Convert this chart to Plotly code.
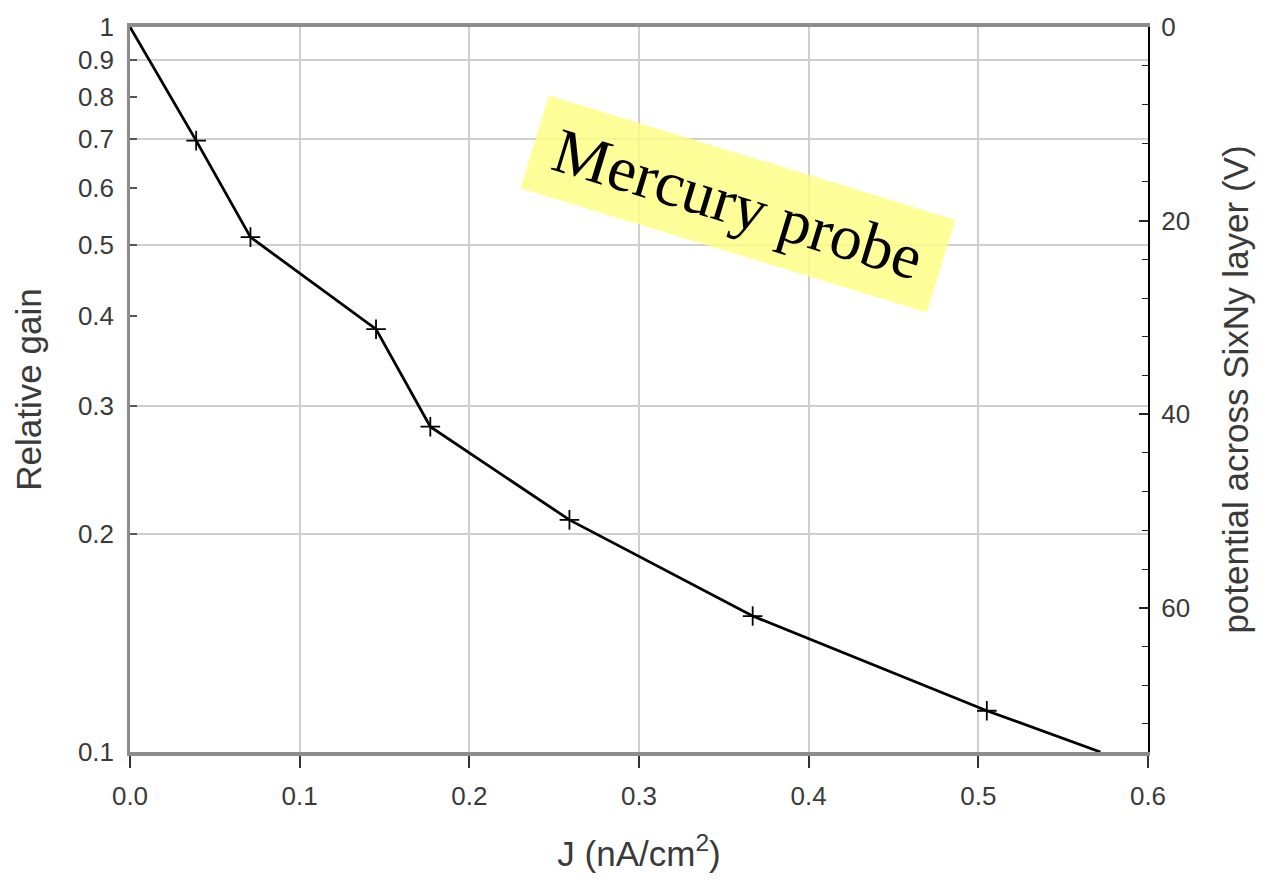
import plotly.graph_objects as go

# Data
J = [0.0, 0.039, 0.071, 0.145, 0.177, 0.259, 0.367, 0.505, 0.572]
gain = [1.0, 0.697, 0.513, 0.383, 0.281, 0.209, 0.154, 0.114, 0.1]
marker_J = J[1:-1]
marker_gain = gain[1:-1]

left_ticks = [0.1, 0.2, 0.3, 0.4, 0.5, 0.6, 0.7, 0.8, 0.9, 1]
left_ticktext = ["0.1", "0.2", "0.3", "0.4", "0.5", "0.6", "0.7", "0.8", "0.9", "1"]
grid_ticks = [0.2, 0.3, 0.5, 0.7, 0.9]
x_ticks = [0.0, 0.1, 0.2, 0.3, 0.4, 0.5, 0.6]
x_ticktext = ["0.0", "0.1", "0.2", "0.3", "0.4", "0.5", "0.6"]
right_ticks = [0, 20, 40, 60]
right_range = [74.9, 0]

label = "Mercury probe"

TXT = "#3a3a3a"
FONT = "Liberation Sans, Arial, sans-serif"

fig = go.Figure()
fig.add_trace(go.Scatter(x=J, y=gain, mode="lines",
                         line=dict(color="black", width=2.8),
                         showlegend=False, hoverinfo="skip"))
fig.add_trace(go.Scatter(x=marker_J, y=marker_gain, mode="markers",
                         marker=dict(symbol="cross-thin", size=14,
                                     line=dict(color="black", width=1.8)),
                         showlegend=False, hoverinfo="skip"))
# dummy traces to activate secondary axes
fig.add_trace(go.Scatter(x=[None], y=[None], yaxis="y2", showlegend=False))
fig.add_trace(go.Scatter(x=[None], y=[None], yaxis="y3", showlegend=False))

fig.update_layout(
    width=1268, height=880,
    margin=dict(l=130, r=120, t=22, b=128),
    paper_bgcolor="white", plot_bgcolor="white",
    font=dict(family=FONT, color=TXT, size=26),
    xaxis=dict(
        range=[0, 0.6], tickvals=x_ticks, ticktext=x_ticktext,
        showgrid=True, gridcolor="#cfcfcf", gridwidth=1.5,
        showline=True, linecolor="#8c8c8c", linewidth=4, mirror=True,
        ticks="outside", ticklen=12, tickwidth=1.5, tickcolor="#333",
        ticklabelstandoff=6,
        tickfont=dict(size=26, color=TXT),
        title=dict(text="J (nA/cm<sup>2</sup>)", font=dict(size=35, color=TXT), standoff=32),
        zeroline=False,
    ),
    yaxis=dict(
        type="log", range=[-1, 0], tickvals=left_ticks, ticktext=left_ticktext,
        showgrid=False,
        showline=True, linecolor="#8c8c8c", linewidth=2.5,
        ticks="inside", ticklen=7, tickwidth=1.5, tickcolor="#555",
        ticklabelstandoff=8,
        tickfont=dict(size=26, color=TXT),
        title=dict(text="Relative gain", font=dict(size=35, color=TXT), standoff=26),
        zeroline=False,
    ),
    yaxis3=dict(
        type="log", range=[-1, 0], overlaying="y", tickvals=grid_ticks,
        showgrid=True, gridcolor="#cfcfcf", gridwidth=1.5,
        showticklabels=False, ticks="", showline=False, zeroline=False,
    ),
    yaxis2=dict(
        overlaying="y", side="right", range=right_range, tickvals=right_ticks,
        showgrid=False, zeroline=False,
        showline=True, linecolor="black", linewidth=2,
        ticks="inside", ticklen=9, tickwidth=1.5, tickcolor="#222",
        minor=dict(dtick=4, ticks="inside", ticklen=6, tickwidth=1.3, tickcolor="#222", showgrid=False),
        ticklabelstandoff=6,
        tickfont=dict(size=26, color=TXT),
        title=dict(text="potential across SixNy layer (V)", font=dict(size=35, color=TXT), standoff=34),
    ),
)

fig.add_annotation(
    x=0.3584, y=-0.2438, xref="x", yref="y",
    text=label, showarrow=False, textangle=17,
    font=dict(family="Liberation Serif, Times New Roman, serif", size=64, color="black"),
    bgcolor="rgba(255,255,128,0.8)", width=420, height=92, borderpad=2,
    xanchor="center", yanchor="middle",
)

fig.write_html("out.html")
